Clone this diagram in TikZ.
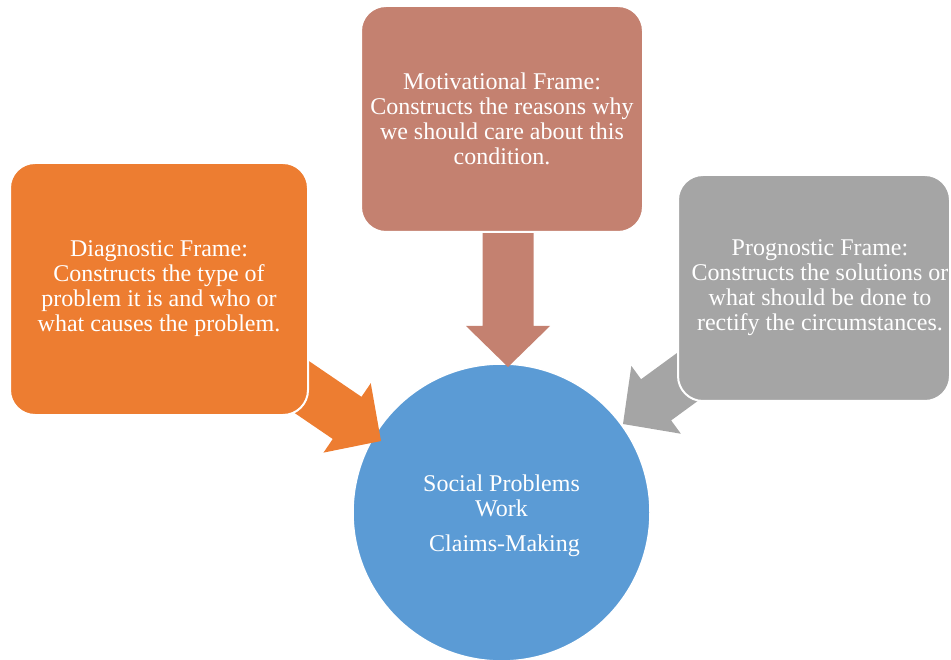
\documentclass[tikz,border=0pt]{standalone}
\usepackage{fontspec}
\setmainfont{Liberation Serif}
\usetikzlibrary{calc}
\definecolor{cOrange}{HTML}{ED7D31}
\definecolor{cBrown}{HTML}{C48170}
\definecolor{cGray}{HTML}{A5A5A5}
\definecolor{cBlue}{HTML}{5B9BD5}
\newcommand{\myblockarrow}[3]{%
  \path ($(#2)!41pt!(#1)$) coordinate (tmpH);
  \fill[#3] ($(#1)!25.5pt!90:(#2)$) -- ($(tmpH)!25.5pt!90:(#2)$) -- ($(tmpH)!42pt!90:(#2)$)
    -- (#2) -- ($(tmpH)!42pt!-90:(#2)$) -- ($(tmpH)!25.5pt!-90:(#2)$) -- ($(#1)!25.5pt!-90:(#2)$) -- cycle;
}
\tikzset{
  txt/.style={text=white, align=center, font=\fontsize{24}{25}\selectfont},
  framebox/.style={txt, rectangle, rounded corners=25pt, draw=white, line width=2pt, inner sep=0pt},
  hub/.style={circle, draw=white, line width=1.5pt, fill=cBlue, minimum size=297pt, inner sep=0pt}
}
\begin{document}
\begin{tikzpicture}[x=1pt,y=-1pt]
\useasboundingbox (0,0) rectangle (951,660);
\node[hub] (hub) at (501.5,512.5) {};
\node[txt, inner sep=0pt] (hubtext) at ($(hub.center)+(0,3)$) {Social Problems\\Work\\[10pt]\hspace*{6pt}Claims-Making};
% arrow end points
\coordinate (tO) at (290,379);
\coordinate (hO) at (381,441);
\coordinate (tM) at (508,220);
\coordinate (hM) at (508,367);
\coordinate (tP) at (712,359);
\coordinate (hP) at (623,424);
\myblockarrow{tO}{hO}{cOrange}
\myblockarrow{tM}{hM}{cBrown}
\myblockarrow{tP}{hP}{cGray}
\node[framebox, fill=cOrange, minimum width=298pt, minimum height=252pt] (diag) at (159,289)
  {Diagnostic Frame:\\Constructs the type of\\problem it is and who or\\what causes the problem.};
\node[framebox, fill=cBrown, minimum width=282pt, minimum height=226pt] (moti) at (502,119)
  {Motivational Frame:\\Constructs the reasons why\\we should care about this\\condition.};
\node[framebox, fill=cGray, minimum width=272pt, minimum height=226pt] (prog) at (814,288)
  {\hspace*{12pt}Prognostic Frame:\\\hspace*{12pt}Constructs the solutions or\\\hspace*{12pt}what should be done to\\\hspace*{12pt}rectify the circumstances.};
\end{tikzpicture}
\end{document}
